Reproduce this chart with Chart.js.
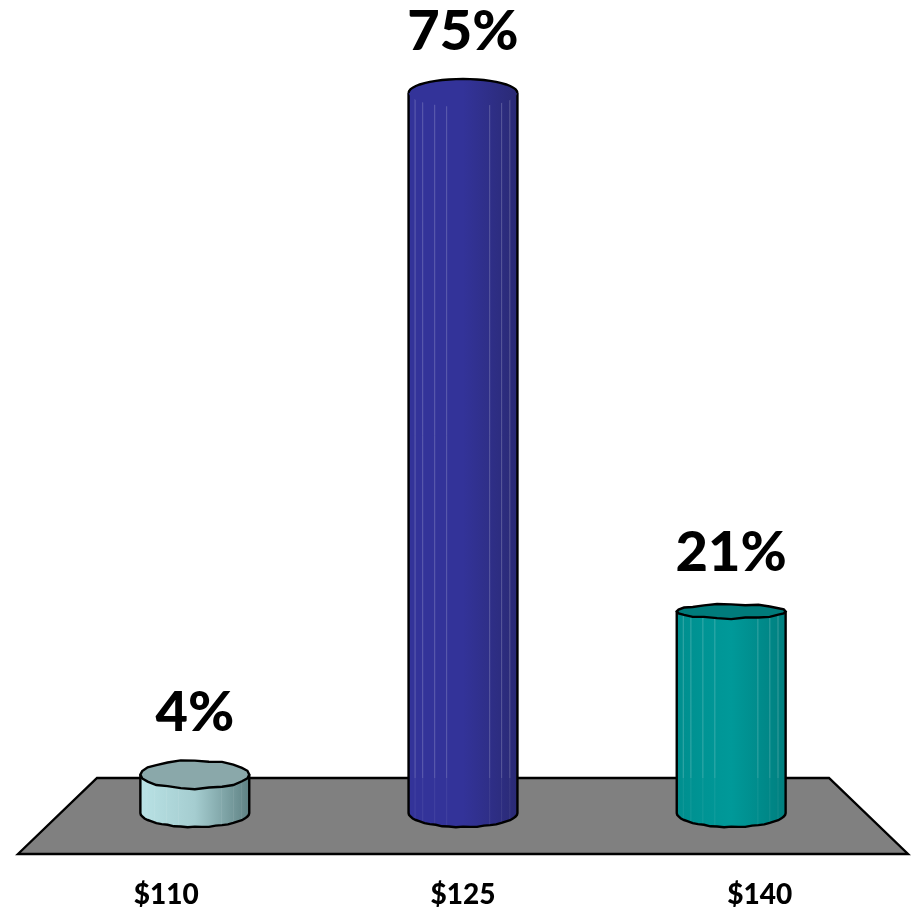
<!DOCTYPE html>
<html>
<head>
<meta charset="utf-8">
<style>
  html, body { margin: 0; padding: 0; background: #fff; }
  #wrap { width: 913px; height: 907px; }
</style>
<script src="https://cdn.jsdelivr.net/npm/chart.js@4/dist/chart.umd.min.js"></script>
</head>
<body>
<div id="wrap"><canvas id="myChart" width="913" height="907"></canvas></div>
<script>
const categories = ['$110', '$125', '$140'];
const shares = [4, 75, 21];

// body gradient stops (left, middle, right), cap colour and cap height per bar
const bodyColors = [
  ['#b9e2e5', '#a5cdd0', '#5f8284'],
  ['#333399', '#333399', '#2a2a75'],
  ['#008f8f', '#009999', '#007f7f']
];
const capColors = ['#8aa8aa', '#2f2f8e', '#007b7b'];
const capHeights = [14, 14, 7];
const showCapFront = [true, false, true];
const facets = [0.06, 0.13, 0.24, 0.35, 0.745, 0.855, 0.93];
const wobble = [0, 1, -1, 1, 0, -1, 1, 0, -1, 1, 0, 1, -1, 0, 1, -1, 0, 1, 0, -1, 1, 0, -1, 1];

const depth = 0.904; // bars stand half way back on the floor
const backInset = 79;
const floorDepth = 76;

function ellipsePath(ctx, cx, cy, rx, ry, from, to, rough) {
  const steps = wobble.length;
  for (let i = 0; i <= steps; i++) {
    const a = from + (to - from) * i / steps;
    const w = wobble[i % steps] * rough;
    const px = cx + rx * Math.cos(a);
    const py = cy + (ry + w) * Math.sin(a);
    ctx.lineTo(px, py);
  }
}

const floorAndBars = {
  id: 'floorAndBars',
  beforeDatasetsDraw(chart) {
    const ctx = chart.ctx;
    const a = chart.chartArea;
    ctx.save();
    ctx.beginPath();
    ctx.moveTo(a.left, a.bottom);
    ctx.lineTo(a.left + backInset, a.bottom - floorDepth);
    ctx.lineTo(a.right - backInset, a.bottom - floorDepth);
    ctx.lineTo(a.right, a.bottom);
    ctx.closePath();
    ctx.fillStyle = '#808080';
    ctx.fill();
    ctx.lineWidth = 2.4;
    ctx.strokeStyle = '#000';
    ctx.stroke();
    ctx.restore();
  },
  afterDatasetsDraw(chart) {
    const ctx = chart.ctx;
    const a = chart.chartArea;
    const mid = (a.left + a.right) / 2;
    const backY = a.bottom - floorDepth;
    chart.getDatasetMeta(0).data.forEach(function(bar, i) {
      const cx = mid + (bar.x - mid) * depth;
      const rx = bar.width * depth / 2;
      const topY = bar.y;
      const baseY = bar.base;
      const capRy = capHeights[i];
      const left = cx - rx;
      const right = cx + rx;

      ctx.save();
      const grad = ctx.createLinearGradient(left, 0, right, 0);
      grad.addColorStop(0, bodyColors[i][0]);
      grad.addColorStop(0.5, bodyColors[i][1]);
      grad.addColorStop(1, bodyColors[i][2]);

      // body
      ctx.beginPath();
      ctx.moveTo(left, topY);
      ctx.lineTo(right, topY);
      ellipsePath(ctx, cx, baseY, rx, 14, 0, Math.PI, 0.4);
      ctx.closePath();
      ctx.fillStyle = grad;
      ctx.fill();

      // facet lines, fainter in front of the floor
      ctx.save();
      ctx.clip();
      ctx.lineWidth = 1;
      facets.forEach(function(f) {
        const fx = left + f * rx * 2;
        ctx.strokeStyle = 'rgba(255,255,255,0.22)';
        ctx.beginPath();
        ctx.moveTo(fx, topY);
        ctx.lineTo(fx, Math.max(backY, topY));
        ctx.stroke();
        ctx.strokeStyle = 'rgba(255,255,255,0.08)';
        ctx.beginPath();
        ctx.moveTo(fx, Math.max(backY, topY));
        ctx.lineTo(fx, baseY + 14);
        ctx.stroke();
      });
      ctx.restore();

      // outline of the body
      ctx.beginPath();
      ctx.moveTo(left, topY);
      ctx.lineTo(left, baseY);
      ellipsePath(ctx, cx, baseY, rx, 14, Math.PI, 0, 0.4);
      ctx.lineTo(right, topY);
      ctx.lineWidth = 2.4;
      ctx.strokeStyle = '#000';
      ctx.stroke();

      // cap, the tall bar only shows its back edge
      ctx.beginPath();
      ellipsePath(ctx, cx, topY, rx, capRy, 0, Math.PI * 2, showCapFront[i] ? 0.7 : 0);
      ctx.closePath();
      ctx.fillStyle = showCapFront[i] ? capColors[i] : grad;
      ctx.fill();
      ctx.beginPath();
      if (showCapFront[i]) {
        ellipsePath(ctx, cx, topY, rx, capRy, 0, Math.PI * 2, 0.7);
        ctx.closePath();
      } else {
        ellipsePath(ctx, cx, topY, rx, capRy, Math.PI, Math.PI * 2, 0);
      }
      ctx.stroke();

      // value label
      ctx.fillStyle = '#000';
      ctx.font = '900 56px Lato';
      ctx.textAlign = 'center';
      ctx.textBaseline = 'alphabetic';
      ctx.fillText(shares[i] + '%', cx, topY - 37 - capRy * 0.45);
      ctx.restore();
    });
  }
};

const ctx = document.getElementById('myChart').getContext('2d');

new Chart(ctx, {
  type: 'bar',
  data: {
    labels: categories,
    datasets: [{
      data: shares,
      backgroundColor: 'transparent',
      borderWidth: 0,
      categoryPercentage: 1,
      barPercentage: 0.406
    }]
  },
  options: {
    responsive: false,
    animation: false,
    layout: { padding: { left: 18, right: 5, top: 45, bottom: 0 } },
    plugins: { legend: { display: false }, tooltip: { enabled: false } },
    scales: {
      x: {
        grid: { display: false, drawTicks: false },
        border: { display: false },
        afterFit(scale) { scale.height = 53; },
        ticks: {
          color: '#000',
          padding: 24,
          maxRotation: 0,
          font: { family: 'Lato', size: 28, weight: '900' }
        }
      },
      y: { display: false, min: -4.27, max: 80 }
    }
  },
  plugins: [floorAndBars]
});
</script>
</body>
</html>
